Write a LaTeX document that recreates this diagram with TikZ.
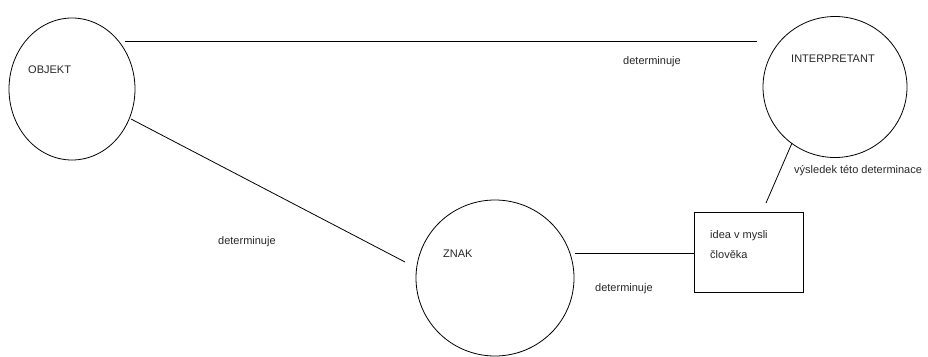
\documentclass[tikz,border=0pt]{standalone}
\usepackage{fontspec}
\setmainfont{Liberation Sans}
\usetikzlibrary{shapes.geometric}
\begin{document}
\begin{tikzpicture}[x=1pt,y=-1pt,
  circ/.style={draw, ellipse, line width=0.8pt, inner sep=0pt},
  lbl/.style={anchor=west, inner sep=0pt, text=black!85, font=\fontsize{11}{13}\selectfont},
  conn/.style={line width=0.8pt}]
\useasboundingbox (0,0) rectangle (928,356);
% shapes
\node[circ, minimum width=126, minimum height=142] (obj) at (72,89) {};
\node[circ, minimum width=144, minimum height=141] (int) at (835,87) {};
\node[circ, minimum width=158, minimum height=156] (znak) at (495,278) {};
\node[draw, line width=0.8pt, minimum width=109, minimum height=80, inner sep=0pt] (box) at (748.5,252) {};
% texts
\node[lbl] (tobj) at (28,70) {OBJEKT};
\node[lbl] (tint) at (791,59) {INTERPRETANT};
\node[lbl] (tznak) at (443,254) {ZNAK};
\node[lbl, align=left, font=\fontsize{11}{20}\selectfont] (tbox) at (710,245) {idea v mysli\\člověka};
\node[lbl] (d1) at (623,62) {determinuje};
\node[lbl] (d2) at (218,242) {determinuje};
\node[lbl] (d3) at (595,289) {determinuje};
\node[lbl] (vys) at (794,171) {výsledek této determinace};
% connector ends
\coordinate (a1) at (125,41);
\coordinate (a2) at (757,41);
\coordinate (b1) at (131,119);
\coordinate (b2) at (405,262);
\coordinate (c1) at (575,253);
\coordinate (d1e) at (792,143);
\coordinate (d2e) at (766,203);
\draw[conn] (a1) -- (a2);
\draw[conn] (b1) -- (b2);
\draw[conn] (c1) -- (box.west |- c1);
\draw[conn] (d1e) -- (d2e);
\end{tikzpicture}
\end{document}
